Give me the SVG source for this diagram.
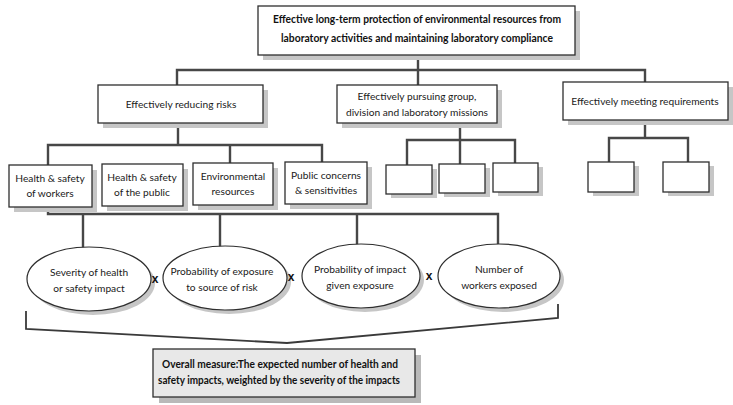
<svg xmlns="http://www.w3.org/2000/svg" width="733" height="405" viewBox="0 0 733 405">
  <style>
    .box { fill: #ffffff; stroke: #2e2e2e; stroke-width: 1.3; }
    .shadow { fill: #c6c6c6; }
    .oval { fill: #ffffff; stroke: #2e2e2e; stroke-width: 1.2; }
    .wire { fill: none; stroke: #474747; stroke-width: 2.4; stroke-linecap: square; }
    .brace { fill: none; stroke: #3a3a3a; stroke-width: 1.8; }
    .t { font-family: Lato, "Open Sans", sans-serif; font-size: 10.2px; fill: #1a1a1a; text-anchor: middle; }
    .tb { font-family: Lato, "Open Sans", sans-serif; font-size: 10.5px; font-weight: bold; fill: #111111; text-anchor: middle; }
    .times { font-family: "Liberation Sans", Arial, sans-serif; font-size: 12px; font-weight: bold; fill: #111111; text-anchor: middle; }
  </style>

  <rect width="733" height="405" fill="#ffffff"/>

  <!-- connectors -->
  <g id="connectors">
    <!-- root to first level -->
    <path class="wire" d="M418 55 V70 M177 85 V70 H645 V82 M418 70 V85"/>
    <!-- reducing risks to its four areas -->
    <path class="wire" d="M178 123 V145 M48 165 V145 H322 V162 M230 145 V163"/>
    <!-- missions to blank boxes -->
    <path class="wire" d="M460 123 V140 M407 165 V140 H515 V163 M460 140 V163"/>
    <!-- requirements to blank boxes -->
    <path class="wire" d="M645 120 V138 M609 162 V138 H688 V162"/>
    <!-- workers to the four factors -->
    <path class="wire" d="M48 207 V214 H498 V244 M83 214 V247 M220 214 V246 M357 214 V244"/>
    <!-- brace gathering the factors -->
    <path class="brace" d="M26 311 V329 L287 343 L558 318 V304"/>
  </g>

  <!-- root -->
  <g id="root">
    <rect class="shadow" x="263" y="11" width="317" height="49"/>
    <rect class="box" x="258" y="6" width="317" height="49"/>
    <text class="tb" x="417" y="23" textLength="288" lengthAdjust="spacingAndGlyphs">Effective long-term protection of environmental resources from</text>
    <text class="tb" x="417" y="42" textLength="272" lengthAdjust="spacingAndGlyphs">laboratory activities and maintaining laboratory compliance</text>
  </g>

  <!-- first level -->
  <g id="reducing-risks">
    <rect class="shadow" x="103" y="90" width="165" height="38"/>
    <rect class="box" x="98" y="85" width="165" height="38"/>
    <text class="t" x="181" y="108">Effectively reducing risks</text>
  </g>
  <g id="pursuing-missions">
    <rect class="shadow" x="342" y="90" width="160" height="38"/>
    <rect class="box" x="337" y="85" width="160" height="38"/>
    <text class="t" x="417" y="100">Effectively pursuing group,</text>
    <text class="t" x="417" y="116">division and laboratory missions</text>
  </g>
  <g id="meeting-requirements">
    <rect class="shadow" x="568" y="87" width="165" height="38"/>
    <rect class="box" x="563" y="82" width="165" height="38"/>
    <text class="t" x="645" y="105">Effectively meeting requirements</text>
  </g>

  <!-- risk areas -->
  <g id="workers">
    <rect class="shadow" x="14" y="170" width="83" height="42"/>
    <rect class="box" x="9" y="165" width="83" height="42"/>
    <text class="t" x="50" y="182">Health &amp; safety</text>
    <text class="t" x="50" y="197">of workers</text>
  </g>
  <g id="public">
    <rect class="shadow" x="107" y="169" width="81" height="42"/>
    <rect class="box" x="102" y="164" width="81" height="42"/>
    <text class="t" x="142" y="181">Health &amp; safety</text>
    <text class="t" x="142" y="196">of the public</text>
  </g>
  <g id="environment">
    <rect class="shadow" x="198" y="168" width="80" height="42"/>
    <rect class="box" x="193" y="163" width="80" height="42"/>
    <text class="t" x="233" y="180">Environmental</text>
    <text class="t" x="233" y="195">resources</text>
  </g>
  <g id="concerns">
    <rect class="shadow" x="290" y="167" width="82" height="42"/>
    <rect class="box" x="285" y="162" width="82" height="42"/>
    <text class="t" x="326" y="179">Public concerns</text>
    <text class="t" x="326" y="194">&amp; sensitivities</text>
  </g>

  <!-- blank boxes under missions -->
  <g id="mission-a">
    <rect class="shadow" x="391" y="169" width="46" height="29"/>
    <rect class="box" x="386" y="165" width="46" height="29"/>
  </g>
  <g id="mission-b">
    <rect class="shadow" x="444" y="168" width="46" height="29"/>
    <rect class="box" x="439" y="164" width="46" height="29"/>
  </g>
  <g id="mission-c">
    <rect class="shadow" x="498" y="167" width="45" height="29"/>
    <rect class="box" x="493" y="163" width="45" height="29"/>
  </g>

  <!-- blank boxes under requirements -->
  <g id="requirement-a">
    <rect class="shadow" x="593" y="166" width="46" height="30"/>
    <rect class="box" x="588" y="162" width="46" height="30"/>
  </g>
  <g id="requirement-b">
    <rect class="shadow" x="668" y="166" width="46" height="30"/>
    <rect class="box" x="663" y="162" width="46" height="30"/>
  </g>

  <!-- factors -->
  <g id="severity">
    <ellipse class="shadow" cx="93" cy="283" rx="62" ry="32"/>
    <ellipse class="oval" cx="89" cy="279" rx="62" ry="32"/>
    <text class="t" x="89" y="276">Severity of health</text>
    <text class="t" x="89" y="292">or safety impact</text>
  </g>
  <g id="exposure">
    <ellipse class="shadow" cx="229" cy="282" rx="62" ry="32"/>
    <ellipse class="oval" cx="225" cy="278" rx="62" ry="32"/>
    <text class="t" x="222" y="275">Probability of exposure</text>
    <text class="t" x="222" y="291">to source of risk</text>
  </g>
  <g id="impact">
    <ellipse class="shadow" cx="365" cy="280" rx="59" ry="32"/>
    <ellipse class="oval" cx="361" cy="276" rx="59" ry="32"/>
    <text class="t" x="360" y="273">Probability of impact</text>
    <text class="t" x="360" y="289">given exposure</text>
  </g>
  <g id="workers-exposed">
    <ellipse class="shadow" cx="503" cy="280" rx="61" ry="32"/>
    <ellipse class="oval" cx="499" cy="276" rx="61" ry="32"/>
    <text class="t" x="499" y="273">Number of</text>
    <text class="t" x="499" y="289">workers exposed</text>
  </g>

  <!-- multiplication signs -->
  <text class="times" x="155" y="283">x</text>
  <text class="times" x="291" y="281">x</text>
  <text class="times" x="429" y="280">x</text>

  <!-- overall measure -->
  <g id="overall-measure">
    <rect fill="#b9b9b9" x="159" y="355" width="262" height="48"/>
    <rect fill="#e8e8e8" stroke="#2e2e2e" stroke-width="1.3" x="153" y="349" width="262" height="48"/>
    <text class="tb" x="280" y="368" textLength="236" lengthAdjust="spacingAndGlyphs">Overall measure:The expected number of health and</text>
    <text class="tb" x="279" y="384" textLength="242" lengthAdjust="spacingAndGlyphs">safety impacts, weighted by the severity of the impacts</text>
  </g>
</svg>
